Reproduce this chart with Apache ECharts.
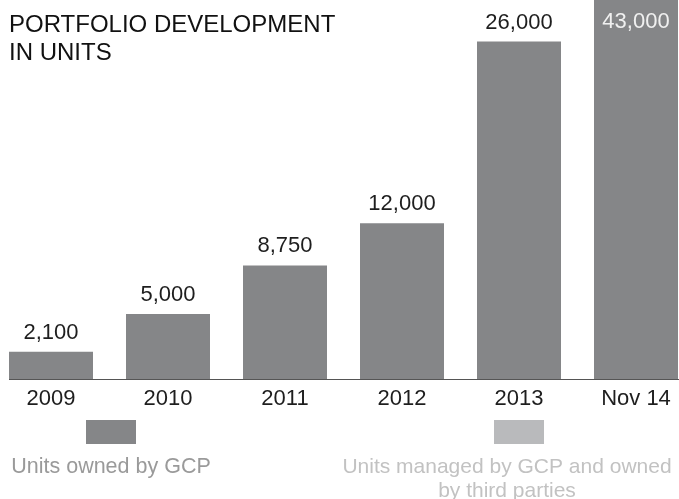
<!DOCTYPE html>
<html>
<head>
<meta charset="utf-8">
<script src="https://cdn.jsdelivr.net/npm/echarts@6/dist/echarts.min.js"></script>
<style>
  html, body { margin: 0; padding: 0; background: #fff; }
  #chart { width: 679px; height: 499px; }
</style>
</head>
<body>
<div id="chart"></div>
<script>
// Portfolio development, units owned by GCP
const categories = ['2009', '2010', '2011', '2012', '2013', 'Nov 14'];
const ownedUnits = [2100, 5000, 8750, 12000, 26000, 43000];
const titleLines = ['PORTFOLIO DEVELOPMENT', 'IN UNITS'];
const legendOwned = 'Units owned by GCP';
const legendManaged = 'Units managed by GCP and owned\nby third parties';

const FONT = 'Liberation Sans, Arial, sans-serif';
const BAR = '#858688';
const BAR_LIGHT = '#b9babc';

const fmt = v => v.toLocaleString('en-US');

const chart = echarts.init(document.getElementById('chart'), null, { renderer: 'canvas' });

chart.setOption({
  animation: false,
  backgroundColor: '#ffffff',
  textStyle: { fontFamily: FONT },
  grid: { left: -7.5, right: -15.5, top: 0, bottom: 120, outerBoundsMode: 'none', containLabel: false },
  xAxis: {
    type: 'category',
    data: categories,
    axisLine: { show: false },
    axisTick: { show: false },
    axisLabel: { color: '#1e1e1e', fontSize: 22, fontFamily: FONT, margin: 9 }
  },
  yAxis: {
    type: 'value',
    min: 0,
    max: 29200,
    show: false,
    splitLine: { show: false }
  },
  series: [{
    name: legendOwned,
    type: 'bar',
    data: ownedUnits.map((v, i) => {
      const last = i === ownedUnits.length - 1;
      return last
        ? { value: v, label: { position: 'insideTop', distance: 11, color: '#f0f0f0' } }
        : { value: v };
    }),
    barWidth: 84,
    itemStyle: { color: BAR },
    label: {
      show: true,
      position: 'top',
      distance: 8,
      color: '#1e1e1e',
      fontSize: 22,
      fontFamily: FONT,
      formatter: p => fmt(p.value)
    }
  }],
  graphic: [
    {
      type: 'text', left: 9, top: 11,
      style: { text: titleLines.join('\n'), font: '24px ' + FONT, fill: '#111', lineHeight: 28 }
    },
    {
      type: 'line',
      shape: { x1: 9, y1: 379.5, x2: 679, y2: 379.5 },
      style: { stroke: '#555', lineWidth: 1 }
    },
    { type: 'rect', shape: { x: 86, y: 420, width: 50, height: 24 }, style: { fill: BAR } },
    { type: 'rect', shape: { x: 494, y: 420, width: 50, height: 24 }, style: { fill: BAR_LIGHT } },
    {
      type: 'text', x: 111, y: 467,
      style: { text: legendOwned, font: '21.5px ' + FONT, fill: '#9a9a9a', align: 'center', verticalAlign: 'middle' }
    },
    {
      type: 'text', x: 507, y: 479,
      style: { text: legendManaged, font: '21px ' + FONT, fill: '#c2c2c2', align: 'center', verticalAlign: 'middle', lineHeight: 24 }
    }
  ]
});
</script>
</body>
</html>
